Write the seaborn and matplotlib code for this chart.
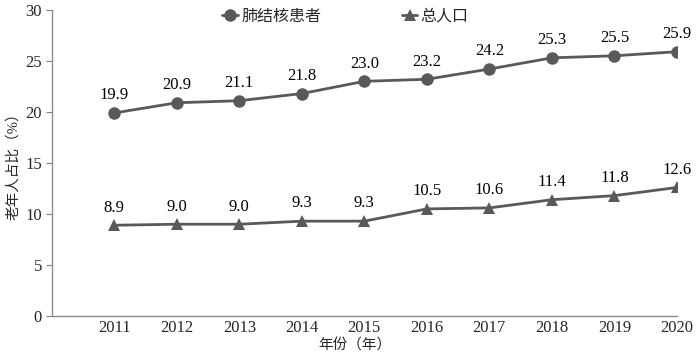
import pandas as pd
import seaborn as sns
import matplotlib.pyplot as plt

years = [2011, 2012, 2013, 2014, 2015, 2016, 2017, 2018, 2019, 2020]
tb_patients = [19.9, 20.9, 21.1, 21.8, 23.0, 23.2, 24.2, 25.3, 25.5, 25.9]
total_pop = [8.9, 9.0, 9.0, 9.3, 9.3, 10.5, 10.6, 11.4, 11.8, 12.6]
series_names = ['肺结核患者', '总人口']

df = pd.DataFrame({'year': years * 2,
                   'value': tb_patients + total_pop,
                   'group': [series_names[0]] * len(years) + [series_names[1]] * len(years)})

sns.set_style('white')
plt.rcParams['font.family'] = ['Liberation Serif', 'Noto Sans CJK SC', 'DejaVu Sans']

grey = '#595959'
fs = 12
fig, ax = plt.subplots(figsize=(7, 3.52), dpi=100)
fig.subplots_adjust(left=0.074, right=0.967, bottom=0.102, top=0.972)

sns.lineplot(data=df, x='year', y='value', hue='group', style='group',
             markers={series_names[0]: 'o', series_names[1]: '^'}, dashes=False,
             palette={series_names[0]: grey, series_names[1]: grey},
             markersize=9, markeredgewidth=0, linewidth=2, ax=ax)

for vals in (tb_patients, total_pop):
    for x, y in zip(years, vals):
        ax.annotate(f'{y:.1f}', (x, y), xytext=(0, 7), textcoords='offset points',
                    ha='center', va='bottom', fontsize=fs, color='black')

ax.set_xlim(2010, 2020)
ax.set_ylim(0, 30)
ax.set_xticks(years)
ax.set_yticks(range(0, 31, 5))
ax.tick_params(axis='x', direction='in', length=4, color='#7f7f7f', labelsize=fs, pad=3)
ax.tick_params(axis='y', direction='out', length=4, color='#7f7f7f', labelsize=fs, left=True, pad=3)
for s in ('top', 'right'):
    ax.spines[s].set_visible(False)
for s in ('left', 'bottom'):
    ax.spines[s].set_color('#8c8c8c')
    ax.spines[s].set_linewidth(1)

ax.set_xlabel('年份（年）', fontsize=10.5)
ax.set_ylabel('老年人占比（%）', fontsize=10.5)
ax.xaxis.set_label_coords(0.485, -0.095)
ax.yaxis.set_label_coords(-0.062, 0.5)
ax.xaxis.label.set_va('center')
ax.yaxis.label.set_va('center')

handles, labels = ax.get_legend_handles_labels()
ax.legend(handles, labels, loc='upper center', bbox_to_anchor=(0.47, 1.05), ncol=2,
          frameon=False, fontsize=11.5, handlelength=1.0, handletextpad=0.2,
          columnspacing=5.0)

plt.savefig('out.png', dpi=100)
